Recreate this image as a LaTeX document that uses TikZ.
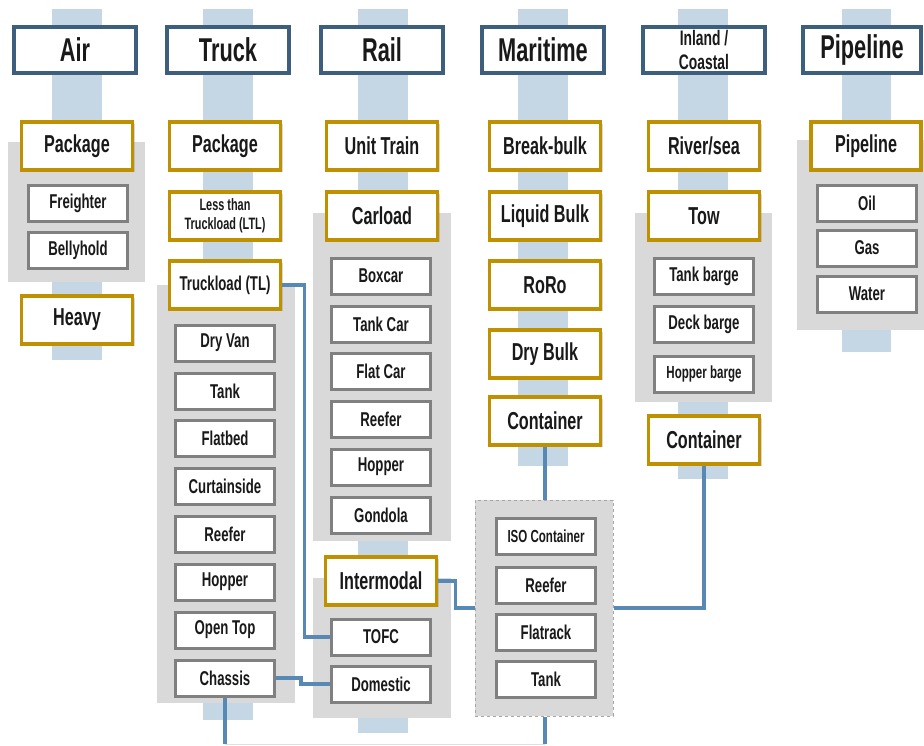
\documentclass[tikz,border=0pt]{standalone}
\usepackage{fontspec}
\newfontfamily\agency{Liberation Sans}[FakeStretch=0.66]
\usetikzlibrary{shadows}
\definecolor{stripe}{RGB}{197,214,228}
\definecolor{panel}{RGB}{217,217,217}
\definecolor{modeblue}{RGB}{62,94,126}
\definecolor{gold}{RGB}{191,144,0}
\definecolor{itemgray}{RGB}{128,128,128}
\definecolor{linkblue}{RGB}{88,137,180}

\begin{document}
\begin{tikzpicture}[x=1pt, y=-1pt,
  every node/.style={text=black!90, inner sep=0pt, align=center},
  mode/.style={draw=modeblue, line width=3.5pt, fill=white, minimum width=122pt, minimum height=46pt,
    drop shadow={opacity=0.3, shadow xshift=2pt, shadow yshift=-2pt}, font=\agency\bfseries\fontsize{33}{35}\selectfont},
  kind/.style={draw=gold, line width=3.5pt, fill=white, minimum width=111pt, minimum height=48pt,
    drop shadow={opacity=0.3, shadow xshift=2pt, shadow yshift=-2pt}, font=\agency\bfseries\fontsize{24.5}{26}\selectfont},
  item/.style={draw=itemgray, line width=3pt, fill=white, minimum width=99pt, minimum height=36pt,
    font=\agency\bfseries\fontsize{20}{22}\selectfont},
  group/.style={draw=black!35, dashed, line width=1pt, fill=panel, minimum width=138pt, minimum height=216pt},
  link/.style={draw=linkblue, line width=3.5pt}
]
\useasboundingbox (0,0) rectangle (924,745);

\fill[stripe] (52,9) rectangle (102,360);
\fill[stripe] (203,9) rectangle (253,720);
\fill[stripe] (358,9) rectangle (408,733);
\fill[stripe] (518,9) rectangle (568,466);
\fill[stripe] (678,9) rectangle (728,479);
\fill[stripe] (842,9) rectangle (891,352);

\fill[panel] (8,142) rectangle (145,282);
\fill[panel] (157,285) rectangle (295,703);
\fill[panel] (313,213) rectangle (451,541);
\fill[panel] (313,578) rectangle (451,718);
\fill[panel] (635,213) rectangle (772,402);
\fill[panel] (797,140) rectangle (924,330);

\node (air) at (75,50) [mode] {Air};
\node (truck) at (228,50) [mode] {Truck};
\node (rail) at (382,50) [mode] {Rail};
\node (maritime) at (543,50) [mode] {Maritime};
\node (inland) at (704,50) [mode, font=\agency\bfseries\fontsize{21}{24}\selectfont] {Inland /\\Coastal};
\node (pipe) at (862,50) [mode, minimum width=118pt] {Pipeline};

\node (airpkg) at (77,146) [kind] {Package};
\node (freighter) at (78,203) [item] {Freighter};
\node (bellyhold) at (78,250) [item] {Bellyhold};
\node (heavy) at (77,320) [kind] {Heavy};

\node (trkpkg) at (225,146) [kind] {Package};
\node (ltl) at (225,216) [kind, font=\agency\bfseries\fontsize{16.5}{19}\selectfont] {Less than\\Truckload (LTL)};
\node (tl) at (225,285) [kind, font=\agency\bfseries\fontsize{20}{22}\selectfont] {Truckload (TL)};
\node (dryvan) at (225,343) [item] {Dry Van};
\node (tank) at (225,391) [item] {Tank};
\node (flatbed) at (225,438) [item] {Flatbed};
\node (curtain) at (225,486) [item] {Curtainside};
\node (reefer) at (225,534) [item] {Reefer};
\node (hopper) at (225,582) [item] {Hopper};
\node (opentop) at (225,630) [item] {Open Top};
\node (chassis) at (225,678) [item] {Chassis};

\node (unit) at (382,146) [kind] {Unit Train};
\node (carload) at (382,216) [kind] {Carload};
\node (boxcar) at (381,276) [item] {Boxcar};
\node (tankcar) at (381,324) [item] {Tank Car};
\node (flatcar) at (381,371) [item] {Flat Car};
\node (railreefer) at (381,419) [item] {Reefer};
\node (railhopper) at (381,467) [item] {Hopper};
\node (gondola) at (381,515) [item] {Gondola};
\node (intermodal) at (381,581) [kind] {Intermodal};
\node (tofc) at (381,637) [item] {TOFC};
\node (domestic) at (381,684) [item] {Domestic};

\node (breakbulk) at (545,146) [kind] {Break-bulk};
\node (liquid) at (545,216) [kind] {Liquid Bulk};
\node (roro) at (545,285) [kind] {RoRo};
\node (drybulk) at (545,354) [kind] {Dry Bulk};
\node (mcont) at (545,421) [kind] {Container};
\node (contgroup) at (544,608) [group] {};
\node (iso) at (546,536) [item, font=\agency\bfseries\fontsize{17.5}{19}\selectfont] {ISO Container};
\node (contreefer) at (546,585) [item] {Reefer};
\node (flatrack) at (546,632) [item] {Flatrack};
\node (conttank) at (546,679) [item] {Tank};

\node (river) at (704,146) [kind] {River/sea};
\node (tow) at (704,216) [kind] {Tow};
\node (tankbarge) at (704,276) [item] {Tank barge};
\node (deckbarge) at (704,324) [item] {Deck barge};
\node (hopperbarge) at (704,374) [item, font=\agency\bfseries\fontsize{17.5}{19}\selectfont] {Hopper barge};
\node (icont) at (704,440) [kind] {Container};

\node (pipeline) at (866,146) [kind, minimum width=110pt] {Pipeline};
\node (oil) at (867,203) [item] {Oil};
\node (gas) at (867,248) [item] {Gas};
\node (water) at (867,294) [item] {Water};

\coordinate (truckend) at (225,744);
\coordinate (contend) at (545,744);

\draw[black!12, line width=0.8pt] (truckend) -- (contend);
\draw[link] (tl.east) -- ++(22,0) |- (tofc.west);
\draw[link] (chassis.east) -- ++(25,0) |- (domestic.west);
\draw[link] (intermodal.east) -- ++(17,0) |- (contgroup.west);
\draw[link] (mcont.south) -- (mcont.south |- contgroup.north);
\draw[link] (icont.south) |- (contgroup.east);
\draw[link] (chassis.south) -- (truckend);
\draw[link] (contgroup.south -| contend) -- (contend);

\end{tikzpicture}
\end{document}
